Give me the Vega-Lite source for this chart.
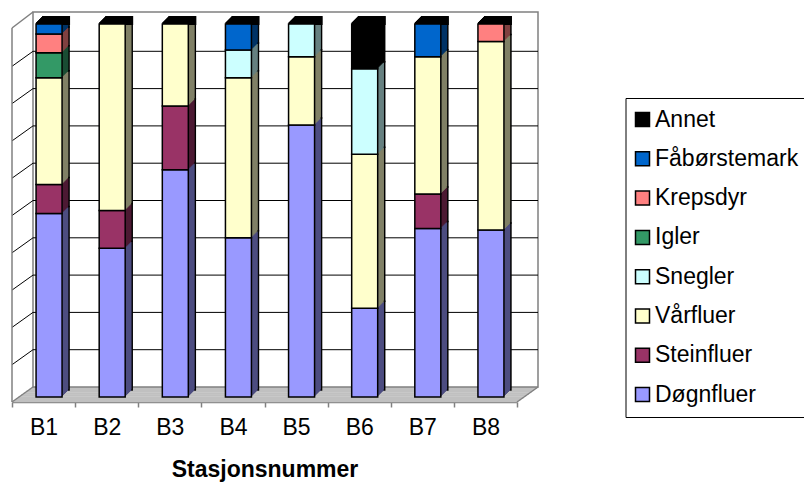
{
  "$schema": "https://vega.github.io/schema/vega-lite/v6.json",
  "width": 505,
  "height": 373,
  "autosize": "none",
  "padding": {"left": 12, "top": 24, "right": 287, "bottom": 85},
  "background": "white",
  "config": {
    "view": {"stroke": null},
    "font": "Liberation Sans"
  },
  "datasets": {
    "fauna": [
      {"stasjon": "B1", "gruppe": "Døgnfluer", "andel": 49.2},
      {"stasjon": "B1", "gruppe": "Steinfluer", "andel": 7.8},
      {"stasjon": "B1", "gruppe": "Vårfluer", "andel": 28.6},
      {"stasjon": "B1", "gruppe": "Igler", "andel": 6.7},
      {"stasjon": "B1", "gruppe": "Krepsdyr", "andel": 5.0},
      {"stasjon": "B1", "gruppe": "Fåbørstemark", "andel": 2.7},
      {"stasjon": "B2", "gruppe": "Døgnfluer", "andel": 39.9},
      {"stasjon": "B2", "gruppe": "Steinfluer", "andel": 10.1},
      {"stasjon": "B2", "gruppe": "Vårfluer", "andel": 50.0},
      {"stasjon": "B3", "gruppe": "Døgnfluer", "andel": 60.9},
      {"stasjon": "B3", "gruppe": "Steinfluer", "andel": 17.1},
      {"stasjon": "B3", "gruppe": "Vårfluer", "andel": 22.0},
      {"stasjon": "B4", "gruppe": "Døgnfluer", "andel": 42.7},
      {"stasjon": "B4", "gruppe": "Vårfluer", "andel": 42.9},
      {"stasjon": "B4", "gruppe": "Snegler", "andel": 7.4},
      {"stasjon": "B4", "gruppe": "Fåbørstemark", "andel": 7.0},
      {"stasjon": "B5", "gruppe": "Døgnfluer", "andel": 72.9},
      {"stasjon": "B5", "gruppe": "Vårfluer", "andel": 18.3},
      {"stasjon": "B5", "gruppe": "Snegler", "andel": 8.8},
      {"stasjon": "B6", "gruppe": "Døgnfluer", "andel": 23.8},
      {"stasjon": "B6", "gruppe": "Vårfluer", "andel": 41.3},
      {"stasjon": "B6", "gruppe": "Snegler", "andel": 22.9},
      {"stasjon": "B6", "gruppe": "Annet", "andel": 12.0},
      {"stasjon": "B7", "gruppe": "Døgnfluer", "andel": 45.2},
      {"stasjon": "B7", "gruppe": "Steinfluer", "andel": 9.2},
      {"stasjon": "B7", "gruppe": "Vårfluer", "andel": 36.8},
      {"stasjon": "B7", "gruppe": "Fåbørstemark", "andel": 8.8},
      {"stasjon": "B8", "gruppe": "Døgnfluer", "andel": 44.8},
      {"stasjon": "B8", "gruppe": "Vårfluer", "andel": 50.5},
      {"stasjon": "B8", "gruppe": "Krepsdyr", "andel": 4.7}
    ],
    "grupper": [
      {"gruppe": "Døgnfluer", "rekkefolge": 1},
      {"gruppe": "Steinfluer", "rekkefolge": 2},
      {"gruppe": "Vårfluer", "rekkefolge": 3},
      {"gruppe": "Snegler", "rekkefolge": 4},
      {"gruppe": "Igler", "rekkefolge": 5},
      {"gruppe": "Krepsdyr", "rekkefolge": 6},
      {"gruppe": "Fåbørstemark", "rekkefolge": 7},
      {"gruppe": "Annet", "rekkefolge": 8}
    ],
    "rutenett": [
      {"verdi": 10}, {"verdi": 20}, {"verdi": 30}, {"verdi": 40}, {"verdi": 50},
      {"verdi": 60}, {"verdi": 70}, {"verdi": 80}, {"verdi": 90}
    ]
  },
  "layer": [
    {"data": {"values": [{}]}, "mark": {"type": "rule", "color": "#C0C0C0", "strokeWidth": 2.2, "xOffset": 1.31, "x2Offset": 1.31, "yOffset": 4.06},
     "encoding": {"x": {"datum": "B1", "type": "nominal", "bandPosition": 0}, "x2": {"datum": "B8", "bandPosition": 1}, "y": {"datum": 0, "type": "quantitative", "scale": {"domain": [0, 100], "nice": false}, "axis": null}}},
    {"data": {"values": [{}]}, "mark": {"type": "rule", "color": "#C0C0C0", "strokeWidth": 2.2, "xOffset": 3.94, "x2Offset": 3.94, "yOffset": 2.19},
     "encoding": {"x": {"datum": "B1", "type": "nominal", "bandPosition": 0}, "x2": {"datum": "B8", "bandPosition": 1}, "y": {"datum": 0, "type": "quantitative", "axis": null}}},
    {"data": {"values": [{}]}, "mark": {"type": "rule", "color": "#C0C0C0", "strokeWidth": 2.2, "xOffset": 6.56, "x2Offset": 6.56, "yOffset": 0.31},
     "encoding": {"x": {"datum": "B1", "type": "nominal", "bandPosition": 0}, "x2": {"datum": "B8", "bandPosition": 1}, "y": {"datum": 0, "type": "quantitative", "axis": null}}},
    {"data": {"values": [{}]}, "mark": {"type": "rule", "color": "#C0C0C0", "strokeWidth": 2.2, "xOffset": 9.19, "x2Offset": 9.19, "yOffset": -1.56},
     "encoding": {"x": {"datum": "B1", "type": "nominal", "bandPosition": 0}, "x2": {"datum": "B8", "bandPosition": 1}, "y": {"datum": 0, "type": "quantitative", "axis": null}}},
    {"data": {"values": [{}]}, "mark": {"type": "rule", "color": "#C0C0C0", "strokeWidth": 2.2, "xOffset": 11.81, "x2Offset": 11.81, "yOffset": -3.44},
     "encoding": {"x": {"datum": "B1", "type": "nominal", "bandPosition": 0}, "x2": {"datum": "B8", "bandPosition": 1}, "y": {"datum": 0, "type": "quantitative", "axis": null}}},
    {"data": {"values": [{}]}, "mark": {"type": "rule", "color": "#C0C0C0", "strokeWidth": 2.2, "xOffset": 14.44, "x2Offset": 14.44, "yOffset": -5.31},
     "encoding": {"x": {"datum": "B1", "type": "nominal", "bandPosition": 0}, "x2": {"datum": "B8", "bandPosition": 1}, "y": {"datum": 0, "type": "quantitative", "axis": null}}},
    {"data": {"values": [{}]}, "mark": {"type": "rule", "color": "#C0C0C0", "strokeWidth": 2.2, "xOffset": 17.06, "x2Offset": 17.06, "yOffset": -7.19},
     "encoding": {"x": {"datum": "B1", "type": "nominal", "bandPosition": 0}, "x2": {"datum": "B8", "bandPosition": 1}, "y": {"datum": 0, "type": "quantitative", "axis": null}}},
    {"data": {"values": [{}]}, "mark": {"type": "rule", "color": "#C0C0C0", "strokeWidth": 2.2, "xOffset": 19.69, "x2Offset": 19.69, "yOffset": -9.06},
     "encoding": {"x": {"datum": "B1", "type": "nominal", "bandPosition": 0}, "x2": {"datum": "B8", "bandPosition": 1}, "y": {"datum": 0, "type": "quantitative", "axis": null}}},
    {"data": {"values": [{}]}, "mark": {"type": "rect", "fill": "white", "stroke": "#808080", "strokeWidth": 1.5, "xOffset": 21, "x2Offset": 21, "yOffset": -10, "y2Offset": -12},
     "encoding": {"x": {"datum": "B1", "type": "nominal", "bandPosition": 0}, "x2": {"datum": "B8", "bandPosition": 1}, "y": {"datum": 0, "type": "quantitative", "axis": null}, "y2": {"datum": 100}}},
    {"data": {"name": "rutenett"}, "mark": {"type": "rule", "color": "black", "strokeWidth": 1, "xOffset": 21, "x2Offset": 21, "yOffset": -10},
     "encoding": {"x": {"datum": "B1", "type": "nominal", "bandPosition": 0}, "x2": {"datum": "B8", "bandPosition": 1}, "y": {"field": "verdi", "type": "quantitative", "axis": null}}},
    {"data": {"name": "rutenett"}, "mark": {"type": "rule", "color": "black", "strokeWidth": 1, "yOffset": 5, "x2Offset": 21, "y2Offset": -10},
     "encoding": {"x": {"datum": "B1", "type": "nominal", "bandPosition": 0}, "x2": {"datum": "B1", "bandPosition": 0}, "y": {"field": "verdi", "type": "quantitative", "axis": null}, "y2": {"field": "verdi"}}},
    {"data": {"values": [{}]}, "mark": {"type": "rule", "color": "#808080", "strokeWidth": 1.5, "yOffset": 5, "x2Offset": 21, "y2Offset": -10},
     "encoding": {"x": {"datum": "B1", "type": "nominal", "bandPosition": 0}, "x2": {"datum": "B1", "bandPosition": 0}, "y": {"datum": 0, "type": "quantitative", "axis": null}, "y2": {"datum": 0}}},
    {"data": {"values": [{}]}, "mark": {"type": "rule", "color": "#808080", "strokeWidth": 1.5, "yOffset": 4, "x2Offset": 21, "y2Offset": -12},
     "encoding": {"x": {"datum": "B1", "type": "nominal", "bandPosition": 0}, "x2": {"datum": "B1", "bandPosition": 0}, "y": {"datum": 100, "type": "quantitative", "axis": null}, "y2": {"datum": 100}}},
    {"data": {"values": [{}]}, "mark": {"type": "rule", "color": "#808080", "strokeWidth": 1.5, "yOffset": 5, "y2Offset": 4},
     "encoding": {"x": {"datum": "B1", "type": "nominal", "bandPosition": 0}, "y": {"datum": 0, "type": "quantitative", "axis": null}, "y2": {"datum": 100}}},
    {"data": {"values": [{}]}, "mark": {"type": "rule", "color": "#808080", "strokeWidth": 1.5, "yOffset": 5, "x2Offset": 21, "y2Offset": -10},
     "encoding": {"x": {"datum": "B8", "type": "nominal", "bandPosition": 1}, "x2": {"datum": "B8", "bandPosition": 1}, "y": {"datum": 0, "type": "quantitative", "axis": null}, "y2": {"datum": 0}}},
    {
      "data": {"name": "fauna"},
      "transform": [
        {"lookup": "gruppe", "from": {"data": {"name": "grupper"}, "key": "gruppe", "fields": ["rekkefolge"]}}
      ],
      "encoding": {
        "x": {
          "field": "stasjon", "type": "nominal", "title": "Stasjonsnummer",
          "scale": {"paddingInner": 0, "paddingOuter": 0},
          "axis": {"title": "Stasjonsnummer", "orient": "bottom", "offset": 5, "bandPosition": 0.5, "labelAlign": "center", "domainColor": "#808080", "domainWidth": 1.5, "tickColor": "#808080", "tickWidth": 1.5, "tickSize": 5, "tickBand": "extent", "labelFontSize": 23, "labelColor": "black", "labelPadding": 20, "labelAngle": 0, "titleFontSize": 23, "titleFontWeight": "bold", "titleColor": "black", "titlePadding": 19, "grid": false}
        },
        "y": {"field": "andel", "type": "quantitative", "stack": "zero", "scale": {"domain": [0, 100], "nice": false}, "axis": null},
        "order": {"field": "rekkefolge", "type": "quantitative"}
      },
      "layer": [
        {"mark": {"type": "bar", "size": 26, "xOffset": 12.5, "yOffset": -7, "stroke": "black", "strokeWidth": 1.5},
         "encoding": {"fill": {"field": "gruppe", "type": "nominal", "scale": {"domain": ["Døgnfluer", "Steinfluer", "Vårfluer", "Snegler", "Igler", "Krepsdyr", "Fåbørstemark", "Annet"], "range": ["#4D4D80", "#4D1A33", "#808066", "#668080", "#1A4D33", "#804040", "#003366", "#000000"]}, "legend": null}}},
        {"mark": {"type": "bar", "size": 26, "xOffset": 11.5, "yOffset": -6},
         "encoding": {"fill": {"field": "gruppe", "type": "nominal", "legend": null}}},
        {"mark": {"type": "bar", "size": 26, "xOffset": 10.5, "yOffset": -5},
         "encoding": {"fill": {"field": "gruppe", "type": "nominal", "legend": null}}},
        {"mark": {"type": "bar", "size": 26, "xOffset": 9.5, "yOffset": -4},
         "encoding": {"fill": {"field": "gruppe", "type": "nominal", "legend": null}}},
        {"mark": {"type": "bar", "size": 26, "xOffset": 8.5, "yOffset": -3},
         "encoding": {"fill": {"field": "gruppe", "type": "nominal", "legend": null}}},
        {"mark": {"type": "bar", "size": 26, "xOffset": 7.5, "yOffset": -2},
         "encoding": {"fill": {"field": "gruppe", "type": "nominal", "legend": null}}},
        {"mark": {"type": "bar", "size": 26, "xOffset": 6.5, "yOffset": -1},
         "encoding": {"fill": {"field": "gruppe", "type": "nominal", "legend": null}}},
        {"transform": [{"filter": "datum.gruppe == 'Døgnfluer'"}], "mark": {"type": "bar", "size": 26, "xOffset": 12.5, "yOffset": -7, "fill": "black", "stroke": "black", "strokeWidth": 2},
         "encoding": {"y": {"datum": 100, "type": "quantitative", "axis": null}, "y2": {"datum": 100}}},
        {"transform": [{"filter": "datum.gruppe == 'Døgnfluer'"}], "mark": {"type": "bar", "size": 26, "xOffset": 11.5, "yOffset": -6, "fill": "black", "stroke": "black", "strokeWidth": 2},
         "encoding": {"y": {"datum": 100, "type": "quantitative", "axis": null}, "y2": {"datum": 100}}},
        {"transform": [{"filter": "datum.gruppe == 'Døgnfluer'"}], "mark": {"type": "bar", "size": 26, "xOffset": 10.5, "yOffset": -5, "fill": "black", "stroke": "black", "strokeWidth": 2},
         "encoding": {"y": {"datum": 100, "type": "quantitative", "axis": null}, "y2": {"datum": 100}}},
        {"transform": [{"filter": "datum.gruppe == 'Døgnfluer'"}], "mark": {"type": "bar", "size": 26, "xOffset": 9.5, "yOffset": -4, "fill": "black", "stroke": "black", "strokeWidth": 2},
         "encoding": {"y": {"datum": 100, "type": "quantitative", "axis": null}, "y2": {"datum": 100}}},
        {"transform": [{"filter": "datum.gruppe == 'Døgnfluer'"}], "mark": {"type": "bar", "size": 26, "xOffset": 8.5, "yOffset": -3, "fill": "black", "stroke": "black", "strokeWidth": 2},
         "encoding": {"y": {"datum": 100, "type": "quantitative", "axis": null}, "y2": {"datum": 100}}},
        {"transform": [{"filter": "datum.gruppe == 'Døgnfluer'"}], "mark": {"type": "bar", "size": 26, "xOffset": 7.5, "yOffset": -2, "fill": "black", "stroke": "black", "strokeWidth": 2},
         "encoding": {"y": {"datum": 100, "type": "quantitative", "axis": null}, "y2": {"datum": 100}}},
        {"transform": [{"filter": "datum.gruppe == 'Døgnfluer'"}], "mark": {"type": "bar", "size": 26, "xOffset": 6.5, "yOffset": -1, "fill": "black", "stroke": "black", "strokeWidth": 2},
         "encoding": {"y": {"datum": 100, "type": "quantitative", "axis": null}, "y2": {"datum": 100}}},
        {"mark": {"type": "bar", "size": 26, "xOffset": 5.5, "stroke": "black", "strokeWidth": 1.5},
         "encoding": {
           "color": {
             "field": "gruppe", "type": "nominal",
             "scale": {"domain": ["Annet", "Fåbørstemark", "Krepsdyr", "Igler", "Snegler", "Vårfluer", "Steinfluer", "Døgnfluer"], "range": ["#000000", "#0066CC", "#FF8080", "#339966", "#CCFFFF", "#FFFFCC", "#993366", "#9999FF"]},
             "legend": {"title": null, "orient": "none", "legendX": 613.5, "legendY": 74, "symbolType": "square", "symbolSize": 196, "symbolStrokeColor": "black", "symbolStrokeWidth": 1.5, "symbolOffset": -4.5, "labelFontSize": 23, "labelFont": "Liberation Sans", "labelColor": "black", "labelOffset": 1, "rowPadding": 15.3, "padding": 10, "strokeColor": "black", "fillColor": "white", "labelLimit": 300}
           }
         }}
      ]
    }
  ]
}
